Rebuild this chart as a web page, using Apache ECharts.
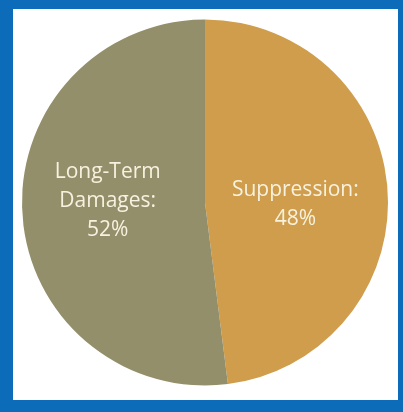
<!DOCTYPE html>
<html><head><meta charset="utf-8">
<script src="https://cdn.jsdelivr.net/npm/echarts@6/dist/echarts.min.js"></script>
<style>html,body{margin:0;padding:0;background:#0d6cb9;}#c{width:403px;height:412px;}</style>
</head><body><div id="c"></div>
<script>
const categories = ['Suppression', 'Long-Term\nDamages'];
const values = [48, 52];
const colors = ['#cf9d4b', '#948f6b'];
const labelShift = [[-4, 8], [-3, -7]];

const chart = echarts.init(document.getElementById('c'), null, {renderer: 'canvas'});
chart.setOption({
  backgroundColor: '#0d6cb9',
  animation: false,
  graphic: [{
    type: 'rect', z: -1, silent: true,
    shape: {x: 13, y: 9, width: 385, height: 391},
    style: {fill: '#ffffff'}
  }],
  series: [{
    type: 'pie',
    center: [205, 202.5],
    radius: [0, 183],
    startAngle: 90,
    clockwise: true,
    silent: true,
    itemStyle: {borderWidth: 0},
    label: {
      show: true,
      position: 'inside',
      formatter: p => p.name + ':\n' + p.value + '%',
      color: '#f7f2df',
      fontFamily: 'Open Sans',
      fontSize: 21,
      lineHeight: 29,
      align: 'center'
    },
    labelLayout: p => ({dx: labelShift[p.dataIndex][0], dy: labelShift[p.dataIndex][1]}),
    labelLine: {show: false},
    data: categories.map((c, i) => ({
      name: c, value: values[i],
      itemStyle: {color: colors[i]}
    }))
  }]
});
</script></body></html>
